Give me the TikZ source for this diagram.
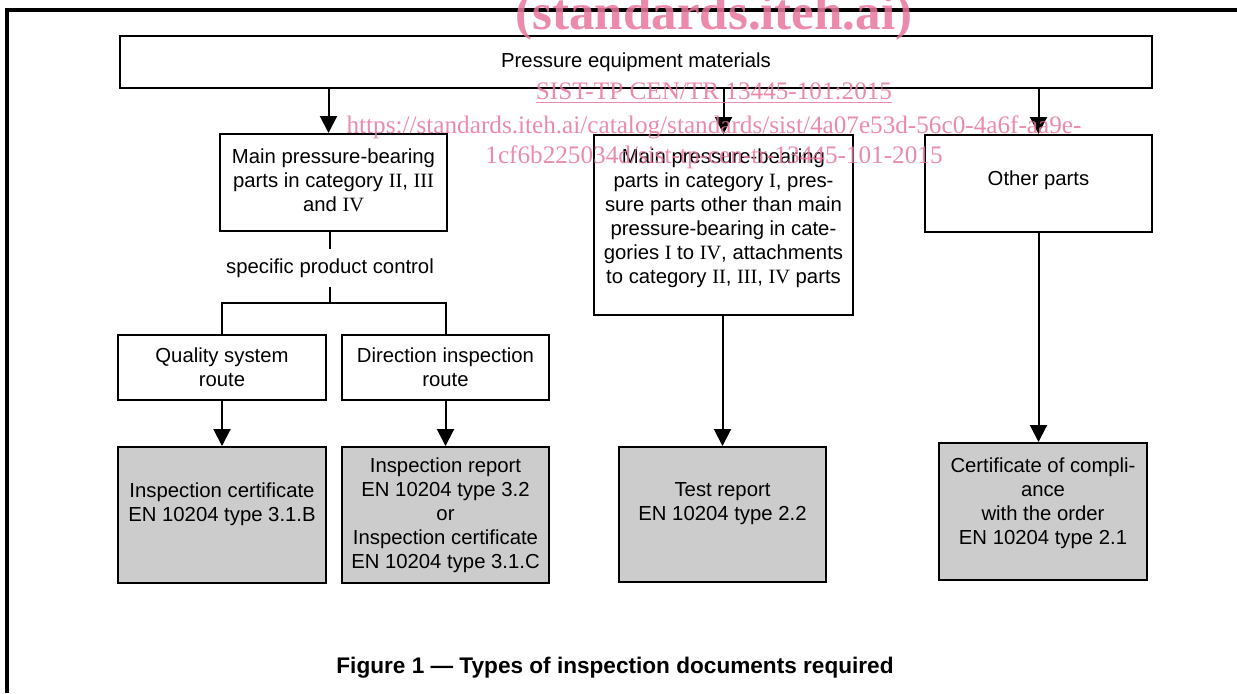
\documentclass[tikz,border=0pt]{standalone}
\usepackage{fontspec}
\setmainfont{Liberation Sans}
\newfontfamily\rmn{Liberation Serif}
\usetikzlibrary{arrows.meta}
\definecolor{boxgray}{RGB}{204,204,204}
\definecolor{wm}{RGB}{232,118,155}
\newcommand\dfont{\fontsize{10.15}{12}\selectfont}
\newcommand\capfont{\bfseries\fontsize{11.3}{13}\selectfont}
\newcommand\wmsmall{\rmn\fontsize{12.6}{15}\selectfont}
\newcommand\wmbig{\rmn\bfseries\fontsize{25.5}{30}\selectfont}
\begin{document}
\begin{tikzpicture}[x=0.5pt,y=-0.5pt,
  box/.style={draw, line width=1pt, fill=white, inner sep=0pt, align=center, font=\dfont},
  gbox/.style={box, fill=boxgray},
  txt/.style={align=center, font=\dfont, inner sep=0pt},
  arr/.style={line width=1pt, -{Triangle[width=8.5pt,length=8.5pt]}},
  ln/.style={line width=1pt},
  wmark/.style={text=wm, text opacity=0.85, inner sep=0pt, anchor=base},
]
\useasboundingbox (0,0) rectangle (1237,693);
% frame
\draw[line width=2pt] (7,693) -- (7,10) -- (1237,10);

% boxes
\node[box, minimum width=516pt, minimum height=26pt] (pem) at (636,62) {Pressure equipment materials};
\node[box, minimum width=113.5pt, minimum height=48.5pt] (A) at (333.5,182.5) {};
\node[txt] (At) at (333.5,180.5)
  {Main pressure-bearing\\parts in category {\rmn II}, {\rmn III}\\and {\rmn IV}};
\node[box, minimum width=129.5pt, minimum height=90pt] (M) at (723.5,225) {};
\node[txt] (Mt) at (723.5,218)
  {Main pressure-bearing\\parts in category {\rmn I}, pres-\\sure parts other than main\\pressure-bearing in cate-\\gories {\rmn I} to {\rmn IV}, attachments\\to category {\rmn II}, {\rmn III}, {\rmn IV} parts};
\node[box, minimum width=113.5pt, minimum height=48.5pt] (O) at (1038.5,183.5) {};
\node[txt] (Ot) at (1038.5,180.5) {Other parts};

\node[txt, inner ysep=4.5pt] (spc) at (330,268) {specific product control};
\coordinate (j) at (330,303);

\node[box, minimum width=104pt, minimum height=32.5pt] (Q) at (222,367.5) {Quality system\\route};
\node[box, minimum width=103.5pt, minimum height=32.5pt] (D) at (445.5,367.5) {Direction inspection\\route};

\node[gbox, minimum width=104pt, minimum height=68pt] (G1) at (222,515) {};
\node[txt] (G1t) at (222,504) {Inspection certificate\\EN 10204 type 3.1.B};
\node[gbox, minimum width=103.5pt, minimum height=68pt] (G2) at (445.5,515)
  {Inspection report\\EN 10204 type 3.2\\or\\Inspection certificate\\EN 10204 type 3.1.C};
\node[gbox, minimum width=103.5pt, minimum height=67.5pt] (T) at (722.5,514.5) {};
\node[txt] (Tt) at (722.5,504) {Test report\\EN 10204 type 2.2};
\node[gbox, minimum width=104pt, minimum height=68.5pt] (C) at (1043,511.5) {};
\node[txt] (Ct) at (1043,503.5) {Certificate of compli-\\ance\\with the order\\EN 10204 type 2.1};

% connectors
\draw[arr] ([xshift=-2.5pt]pem.south -| A.north) -- ([xshift=-2.5pt]A.north);
\draw[arr] (pem.south -| M.north) -- (M.north);
\draw[arr] (pem.south -| O.north) -- (O.north);
\draw[ln] (A.south -| spc.north) -- (spc.north);
\draw[ln] (spc.south) -- (j);
\draw[ln] (Q.north) -- (Q.north |- j) -- (D.north |- j) -- (D.north);
\draw[arr] (Q.south) -- (G1.north);
\draw[arr] (D.south) -- (G2.north);
\draw[arr] (M.south -| T.north) -- (T.north);
\draw[arr] (O.south) -- (O.south |- C.north);

% caption
\node[font=\capfont, inner sep=0pt] (cap) at (615,668) {Figure 1 — Types of inspection documents required};

% watermark
\node[wmark, font=\wmbig] (w1) at (714,29) {(standards.iteh.ai)};
\node[wmark, font=\wmsmall] (w2) at (714,99) {\underline{SIST-TP CEN/TR 13445-101:2015}};
\node[wmark, font=\wmsmall] (w3) at (714,133) {https://standards.iteh.ai/catalog/standards/sist/4a07e53d-56c0-4a6f-aa9e-};
\node[wmark, font=\wmsmall] (w4) at (714,163) {1cf6b225034d/sist-tp-cen-tr-13445-101-2015};
\end{tikzpicture}
\end{document}
